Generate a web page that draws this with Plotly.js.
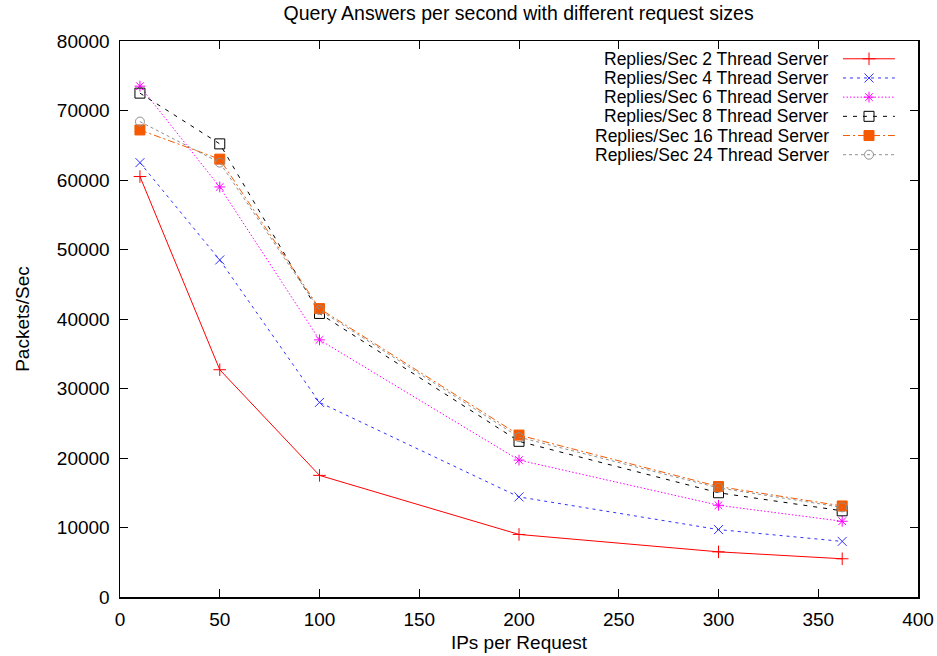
<!DOCTYPE html>
<html>
<head>
<meta charset="utf-8">
<script src="https://cdn.plot.ly/plotly-3.0.1.min.js"></script>
<style>html,body{margin:0;padding:0;background:#fff;}#chart{width:937px;height:656px;}</style>
</head>
<body>
<div id="chart"></div>
<script>
const ipsPerRequest = [10, 50, 100, 200, 300, 362];
const seriesNames = [
  "Replies/Sec 2 Thread Server",
  "Replies/Sec 4 Thread Server",
  "Replies/Sec 6 Thread Server",
  "Replies/Sec 8 Thread Server",
  "Replies/Sec 16 Thread Server",
  "Replies/Sec 24 Thread Server"
];
const threads2  = [60500, 32700, 17500, 9000, 6500, 5500];
const threads4  = [62500, 48500, 28000, 14400, 9700, 8000];
const threads6  = [73500, 59000, 37000, 19700, 13200, 10900];
const threads8  = [72500, 65200, 40800, 22400, 15000, 12400];
const threads16 = [67200, 63000, 41500, 23300, 15900, 13100];
const threads24 = [68400, 62500, 41300, 23000, 15700, 12900];
const xTicks = [0, 50, 100, 150, 200, 250, 300, 350, 400];
const yTicks = [0, 10000, 20000, 30000, 40000, 50000, 60000, 70000, 80000];

const styles = [
  {color: "#ff0000", dash: "solid", symbol: "cross-thin-open", size: 9, lw: 1},
  {color: "#3030ff", dash: "3px,4px", symbol: "x-thin-open", size: 9, lw: 1},
  {color: "#ff00ff", dash: "1.5px,2px", symbol: "asterisk-open", size: 9, lw: 1},
  {color: "#000000", dash: "4px,6px", symbol: "square-open", size: 10, lw: 1},
  {color: "#f55a00", dash: "7px,3px,2px,3px", symbol: "square", size: 10, lw: 1},
  {color: "#909090", dash: "3px,3px", symbol: "circle-open", size: 9, lw: 1}
];
const allSeries = [threads2, threads4, threads6, threads8, threads16, threads24];

const font = "Liberation Sans, Arial, sans-serif";
const traces = [];
allSeries.forEach((ys, i) => {
  const s = styles[i];
  traces.push({
    x: ipsPerRequest, y: ys, name: seriesNames[i], type: "scatter", mode: "lines+markers",
    line: {color: s.color, width: s.lw, dash: s.dash},
    marker: {symbol: s.symbol, size: s.size, color: s.color, line: {color: s.color, width: 1}},
    showlegend: false, cliponaxis: false
  });
});

// custom gnuplot-style legend (text right-aligned, sample on the right)
const annotations = [];
const shapes = [];
const rowTop = 0.968, rowStep = 0.0345;
seriesNames.forEach((n, i) => {
  const yp = rowTop - i * rowStep;
  annotations.push({xref: "paper", yref: "paper", x: 0.89, y: yp, xanchor: "right", yanchor: "middle",
    text: n, showarrow: false, borderpad: 0, font: {family: font, size: 17.5, color: "#000"}});
  const s = styles[i];
  shapes.push({type: "line", xref: "paper", yref: "paper", x0: 0.906, x1: 0.971, y0: yp, y1: yp,
    line: {color: s.color, width: s.lw, dash: s.dash}});
  traces.push({x: [0.9386], y: [yp], xaxis: "x2", yaxis: "y2", mode: "markers", type: "scatter",
    marker: {symbol: s.symbol, size: s.size, color: s.color, line: {color: s.color, width: 1}},
    showlegend: false, hoverinfo: "skip", cliponaxis: false});
});

const axisCommon = {
  showgrid: false, zeroline: false, showline: true, linecolor: "#000", linewidth: 1.5,
  mirror: "ticks", ticks: "inside", ticklen: 8, tickwidth: 1, tickcolor: "#000",
  ticklabelstandoff: 5,
  tickfont: {family: font, size: 19, color: "#000"}
};

const layout = {
  width: 937, height: 656,
  margin: {l: 120, r: 19, t: 41, b: 59},
  paper_bgcolor: "#fff", plot_bgcolor: "#fff",
  showlegend: false,
  title: {text: "Query Answers per second with different request sizes", font: {family: font, size: 19.5, color: "#000"},
    x: 0.5535, xanchor: "center", y: 0.98, yanchor: "middle"},
  xaxis: Object.assign({}, axisCommon, {range: [0, 400], tickvals: xTicks, ticktext: xTicks.map(String),
    title: {text: "IPs per Request", font: {family: font, size: 19, color: "#000"}, standoff: 6}}),
  yaxis: Object.assign({}, axisCommon, {range: [0, 80000], tickvals: yTicks, ticktext: yTicks.map(String),
    title: {text: "Packets/Sec", font: {family: font, size: 19, color: "#000"}, standoff: 22}}),
  xaxis2: {overlaying: "x", range: [0, 1], visible: false, fixedrange: true},
  yaxis2: {overlaying: "y", range: [0, 1], visible: false, fixedrange: true},
  annotations: annotations,
  shapes: shapes
};

Plotly.newPlot("chart", traces, layout, {displayModeBar: false, staticPlot: true});
</script>
</body>
</html>
